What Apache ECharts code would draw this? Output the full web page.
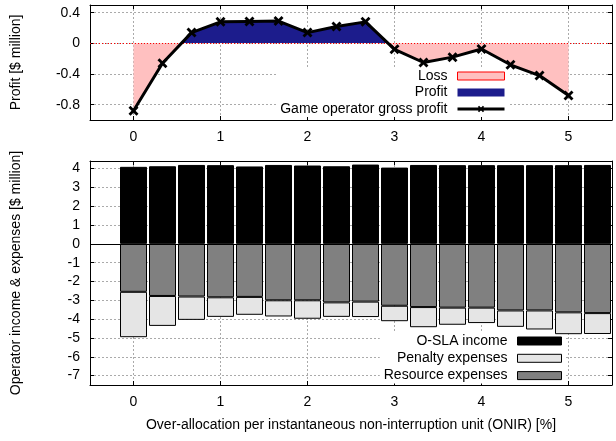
<!DOCTYPE html>
<html><head><meta charset="utf-8">
<script src="https://cdn.jsdelivr.net/npm/echarts@6/dist/echarts.min.js"></script>
<style>html,body{margin:0;padding:0;background:#fff}#c{width:616px;height:441px}</style>
</head><body><div id="c"></div>
<script>
// ONIR over-allocation [%] positions
const onir = [0, 0.333, 0.667, 1, 1.333, 1.667, 2, 2.333, 2.667, 3, 3.333, 3.667, 4, 4.333, 4.667, 5, 5.333];
// Bar slots along the bottom axis (first slot, -0.333, is empty)
const barSlots = ['-0.333', '0', '0.333', '0.667', '1', '1.333', '1.667', '2', '2.333', '2.667', '3', '3.333', '3.667', '4', '4.333', '4.667', '5', '5.333'];
// Top: game operator gross profit [$ million] (x = 0 .. 5)
const grossProfit = [-0.88, -0.26, 0.14, 0.28, 0.285, 0.29, 0.14, 0.22, 0.28, -0.078, -0.25, -0.18, -0.074, -0.28, -0.42, -0.68];
// Bottom: income & expenses [$ million] (x = 0 .. 5.333)
const oslaIncome = [4.09, 4.12, 4.19, 4.18, 4.11, 4.19, 4.16, 4.12, 4.21, 4.05, 4.19, 4.18, 4.18, 4.18, 4.18, 4.18, 4.19];
const resourceExp = [-2.55, -2.77, -2.80, -2.84, -2.82, -3.00, -3.00, -3.11, -3.07, -3.29, -3.36, -3.39, -3.39, -3.54, -3.54, -3.64, -3.68];
const penaltyExp = [-2.41, -1.59, -1.24, -1.04, -0.95, -0.86, -0.98, -0.77, -0.82, -0.82, -1.07, -0.91, -0.82, -0.87, -1.01, -1.16, -1.11];
// Tick labels
const xTicks = [0, 1, 2, 3, 4, 5];
const profitTicks = [-0.8, -0.4, 0, 0.4];
const moneyTicks = [-7, -6, -5, -4, -3, -2, -1, 0, 1, 2, 3, 4];

const FONT = 'Liberation Sans';
const gridLine = { show: true, lineStyle: { color: '#aaa', type: [2, 2], width: 1 } };
const crossPath = 'path://M0,2L2,0L5,3L8,0L10,2L7,5L10,8L8,10L5,7L2,10L0,8L3,5Z';

function xAx(gi, main, top) {
  return {
    type: 'value', gridIndex: gi, min: -0.5, max: 5.5, position: top ? 'top' : 'bottom',
    axisLine: { show: true, onZero: false, lineStyle: { color: '#000', width: 1 } },
    axisTick: { show: true, inside: true, length: 4, customValues: xTicks, lineStyle: { color: '#000' } },
    axisLabel: main ? { show: true, customValues: xTicks, fontSize: 14, color: '#000', fontFamily: FONT, margin: 10 } : { show: false },
    splitLine: main ? gridLine : { show: false }
  };
}
function yAx(gi, main, right, min, max, ticks, name, gap) {
  const o = {
    type: 'value', gridIndex: gi, min: min, max: max, position: right ? 'right' : 'left',
    axisLine: { show: true, onZero: false, lineStyle: { color: '#000', width: 1 } },
    axisTick: { show: true, inside: true, length: 4, customValues: ticks, lineStyle: { color: '#000' } },
    axisLabel: main ? { show: true, customValues: ticks, fontSize: 14, color: '#000', fontFamily: FONT, margin: 10,
      formatter: v => String(Math.round(v * 10) / 10) } : { show: false },
    splitLine: main ? gridLine : { show: false }
  };
  if (main) {
    o.name = name; o.nameLocation = 'middle'; o.nameGap = gap;
    o.nameTextStyle = { fontSize: 14, color: '#000', fontFamily: FONT };
  }
  return o;
}

const profitPts = grossProfit.map((v, i) => [onir[i], v]);
const pad = arr => [null].concat(arr);
const chart = echarts.init(document.getElementById('c'), null, { renderer: 'canvas' });
chart.setOption({
  animation: false,
  textStyle: { fontFamily: FONT },
  grid: [
    { left: 90, right: 4, top: 5, height: 115 },
    { left: 90, right: 4, top: 161, height: 224 }
  ],
  xAxis: [
    xAx(0, true, false), xAx(0, false, true),
    Object.assign(xAx(1, true, false), {
      name: 'Over-allocation per instantaneous non-interruption unit (ONIR) [%]', nameLocation: 'middle', nameGap: 33,
      nameTextStyle: { fontSize: 14, color: '#000', fontFamily: FONT }
    }),
    xAx(1, false, true),
    { type: 'category', gridIndex: 1, data: barSlots, boundaryGap: true, show: false,
      axisLine: { show: false, onZero: false }, splitLine: { show: false } }
  ],
  yAxis: [
    yAx(0, true, false, -1, 0.5, profitTicks, 'Profit [$ million]', 67),
    yAx(0, false, true, -1, 0.5, profitTicks),
    yAx(1, true, false, -7.5, 4.4, moneyTicks, 'Operator income & expenses [$ million]', 67),
    yAx(1, false, true, -7.5, 4.4, moneyTicks)
  ],
  visualMap: {
    show: false, type: 'piecewise', seriesIndex: 0, dimension: 1,
    pieces: [{ gte: -2, lt: 0, color: '#ffc0c0' }, { gte: 0, lte: 2, color: '#1c1c8c' }]
  },
  legend: [
    {
      orient: 'vertical', right: 107, top: 68, align: 'right', itemWidth: 47, itemHeight: 8, itemGap: 2.5,
      backgroundColor: '#fff', padding: [1, 3, 1, 4], selectedMode: false, z: 1,
      textStyle: { fontSize: 14, color: '#000', fontFamily: FONT, padding: [0, 5, 0, 0] },
      data: [
        { name: 'Loss', icon: 'rect', itemStyle: { color: '#ffc0c0', borderColor: '#ff0000', borderWidth: 1 } },
        { name: 'Profit', icon: 'rect', itemStyle: { color: '#1c1c8c', borderWidth: 0 } },
        { name: 'Game operator gross profit', lineStyle: { width: 3, color: '#000' } }
      ]
    },
    {
      orient: 'vertical', right: 51, top: 333, align: 'right', itemWidth: 44, itemHeight: 8, itemGap: 3.3,
      backgroundColor: '#fff', padding: [1, 3, 1, 4], selectedMode: false, z: 1,
      textStyle: { fontSize: 14, color: '#000', fontFamily: FONT, padding: [0, 5, 0, 0] },
      data: [
        { name: 'O-SLA income', icon: 'rect', itemStyle: { borderWidth: 1 } },
        { name: 'Penalty expenses', icon: 'rect', itemStyle: { borderWidth: 1 } },
        { name: 'Resource expenses', icon: 'rect', itemStyle: { borderWidth: 1 } }
      ]
    }
  ],
  series: [
    { type: 'line', name: '_area', xAxisIndex: 0, yAxisIndex: 0, data: profitPts, symbol: 'none', silent: true,
      lineStyle: { width: 0, opacity: 0 }, areaStyle: { opacity: 1 }, z: 2 },
    { type: 'line', name: 'Loss', xAxisIndex: 0, yAxisIndex: 0, data: [] },
    { type: 'line', name: 'Profit', xAxisIndex: 0, yAxisIndex: 0, data: [] },
    { type: 'line', name: 'Game operator gross profit', xAxisIndex: 0, yAxisIndex: 0, data: profitPts,
      symbol: crossPath, symbolSize: 10, showAllSymbol: true,
      itemStyle: { color: '#000' }, lineStyle: { color: '#000', width: 3 }, z: 5,
      markLine: { silent: true, symbol: 'none', label: { show: false },
        lineStyle: { color: '#ff0000', type: [1, 2], width: 1 }, data: [{ yAxis: 0 }] } },
    { type: 'bar', name: 'Resource expenses', xAxisIndex: 4, yAxisIndex: 2, stack: 'a', barWidth: 27,
      data: pad(resourceExp), itemStyle: { color: '#808080', borderColor: '#000', borderWidth: 1 } },
    { type: 'bar', name: 'Penalty expenses', xAxisIndex: 4, yAxisIndex: 2, stack: 'a', barWidth: 27,
      data: pad(penaltyExp), itemStyle: { color: '#e5e5e5', borderColor: '#000', borderWidth: 1 } },
    { type: 'bar', name: 'O-SLA income', xAxisIndex: 4, yAxisIndex: 2, stack: 'a', barWidth: 27,
      data: pad(oslaIncome), itemStyle: { color: '#000', borderColor: '#000', borderWidth: 1 },
      markLine: { silent: true, symbol: 'none', label: { show: false },
        lineStyle: { color: '#000', type: 'solid', width: 1 }, data: [{ yAxis: 0 }] } }
  ]
});
</script></body></html>
